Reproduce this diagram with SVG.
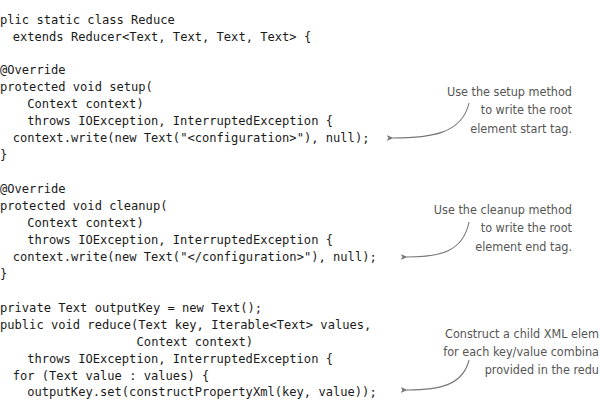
<svg xmlns="http://www.w3.org/2000/svg" width="600" height="400" viewBox="0 0 600 400">
<style>
.code{font-family:"DejaVu Sans Mono","Liberation Mono",monospace;font-size:12.1px;fill:#1a1a1a;white-space:pre}
.note{font-family:"DejaVu Sans Condensed","DejaVu Sans","Liberation Sans",sans-serif;font-size:12.5px;fill:#555;text-anchor:end}
.conn{fill:none;stroke:#777;stroke-width:1.1}
</style>
<defs>
<marker id="ah" viewBox="0 0 10 10" refX="1" refY="5" markerWidth="7" markerHeight="7" orient="auto-start-reverse" markerUnits="userSpaceOnUse">
<path d="M0,5 L10,1 L7.5,5 L10,9 Z" fill="#777"/>
</marker>
</defs>
<rect width="600" height="400" fill="#fff"/>
<g id="code">
<text class="code" x="0" y="23.5">plic static class Reduce</text>
<text class="code" x="12.7" y="40.5">extends Reducer&lt;Text, Text, Text, Text&gt; {</text>
<text class="code" x="0" y="74.4">@Override</text>
<text class="code" x="0" y="91.4">protected void setup(</text>
<text class="code" x="27.2" y="108.3">Context context)</text>
<text class="code" x="27.2" y="125.3">throws IOException, InterruptedException {</text>
<text class="code" x="12.7" y="142.2">context.write(new Text("&lt;configuration&gt;"), null);</text>
<text class="code" x="0" y="159.2">}</text>
<text class="code" x="0" y="193.0">@Override</text>
<text class="code" x="0" y="210.0">protected void cleanup(</text>
<text class="code" x="27.2" y="227.0">Context context)</text>
<text class="code" x="27.2" y="243.9">throws IOException, InterruptedException {</text>
<text class="code" x="12.7" y="260.8">context.write(new Text("&lt;/configuration&gt;"), null);</text>
<text class="code" x="0" y="277.8">}</text>
<text class="code" x="0" y="311.7">private Text outputKey = new Text();</text>
<text class="code" x="0" y="328.6">public void reduce(Text key, Iterable&lt;Text&gt; values,</text>
<text class="code" x="136.6" y="345.6">Context context)</text>
<text class="code" x="27.2" y="362.5">throws IOException, InterruptedException {</text>
<text class="code" x="12.7" y="379.5">for (Text value : values) {</text>
<text class="code" x="27.2" y="396.4">outputKey.set(constructPropertyXml(key, value));</text>
</g>
<g id="note-setup">
<text class="note" x="572" y="96">Use the setup method</text>
<text class="note" x="572" y="114">to write the root</text>
<text class="note" x="572" y="133">element start tag.</text>
</g>
<g id="note-cleanup">
<text class="note" x="572" y="214">Use the cleanup method</text>
<text class="note" x="572" y="232">to write the root</text>
<text class="note" x="572" y="251">element end tag.</text>
</g>
<g id="note-reduce">
<text class="note" x="599" y="338">Construct a child XML elem</text>
<text class="note" x="599" y="356">for each key/value combina</text>
<text class="note" x="599" y="374">provided in the redu</text>
</g>
<g id="connectors">
<path class="conn" marker-start="url(#ah)" d="M393,138 C430,138 462,134 469,103"/>
<path class="conn" marker-start="url(#ah)" d="M407,257 C440,257 463,252 469,222"/>
<path class="conn" marker-start="url(#ah)" d="M407,390 C440,390 463,385 469,360"/>
</g>
</svg>
